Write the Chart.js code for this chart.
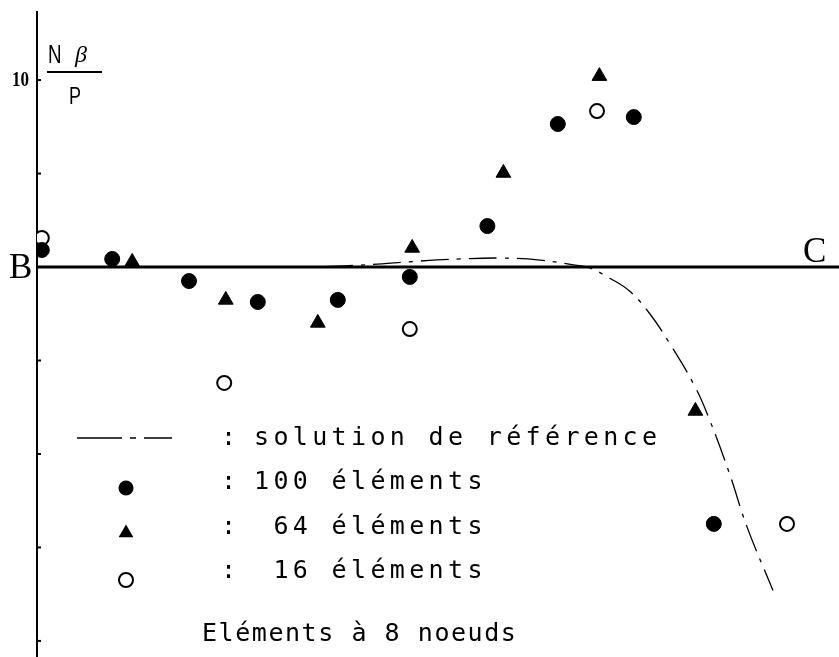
<!DOCTYPE html>
<html>
<head>
<meta charset="utf-8">
<script src="https://cdn.jsdelivr.net/npm/chart.js@4/dist/chart.umd.min.js"></script>
<style>
  html, body { margin: 0; padding: 0; background: #fff; }
  #wrap { width: 839px; height: 657px; position: relative; }
</style>
</head>
<body>
<div id="wrap"><canvas id="c"></canvas></div>
<script>
// values (x: position along B-C, y: N beta / P)
const xMax = 100.25;
const yMin = -20.86;
const yMax = 13.64;
const yTicks = [-20, -15, -10, -5, 0, 5, 10];
const yLabelled = [10];

const refX = [0, 32.9, 40.4, 47.9, 52.9, 57.9, 62.9, 67.25, 69.1, 71.6, 74.1, 76.6, 79.1, 82.25, 84.1, 86.6, 88.75, 92];
const refY = [0, 0, 0.1, 0.32, 0.43, 0.48, 0.37, 0.1, -0.05, -0.6, -1.3, -2.5, -4.1, -6.4, -8.2, -11.1, -13.9, -17.3];

const e100X = [0.6, 9.4, 19.0, 27.6, 37.6, 46.6, 56.3, 65.1, 74.6, 84.6];
const e100Y = [0.91, 0.43, -0.75, -1.87, -1.76, -0.53, 2.19, 7.65, 8.02, -13.74];

const e64X = [11.9, 23.6, 35.1, 46.9, 58.3, 70.3, 82.3];
const e64Y = [0.27, -1.76, -2.99, 1.02, 5.03, 10.21, -7.70];

const e16X = [0.6, 23.4, 46.6, 70.0, 93.75];
const e16Y = [1.55, -6.20, -3.32, 8.34, -13.74];

const pts = (xs, ys) => xs.map((x, i) => ({ x: x, y: ys[i] }));

const mono = '"DejaVu Sans Mono", monospace';

// draw a string one char at a time, typewriter style
function spaced(ctx, str, x, y, adv) {
    for (let i = 0; i < str.length; i++) {
        ctx.fillText(str[i], x + i * adv, y);
    }
}

// horizontally squeezed text
function narrow(ctx, str, x, y, k) {
    ctx.save();
    ctx.translate(x, y);
    ctx.scale(k, 1);
    ctx.fillText(str, 0, 0);
    ctx.restore();
}

const decor = {
    id: 'decor',
    afterDraw(chart) {
        const ctx = chart.ctx;
        const ys = chart.scales.y;
        const xs = chart.scales.x;
        ctx.save();
        ctx.fillStyle = '#000';
        ctx.strokeStyle = '#000';

        // small inward tick marks on the axis, and the one labelled tick
        ctx.lineWidth = 2;
        yTicks.forEach(v => {
            if (v === 0) return;
            const py = ys.getPixelForValue(v);
            ctx.beginPath();
            ctx.moveTo(xs.left, py);
            ctx.lineTo(xs.left + 4, py);
            ctx.stroke();
        });
        ctx.font = 'bold 20px "Liberation Serif", serif';
        ctx.textAlign = 'left';
        ctx.textBaseline = 'alphabetic';
        yLabelled.forEach(v => {
            narrow(ctx, String(v), 12, ys.getPixelForValue(v) + 6, 0.85);
        });

        // B and C
        ctx.font = '35px "Liberation Serif", serif';
        const y0 = ys.getPixelForValue(0);
        ctx.fillText('B', 9, y0 + 11);
        ctx.fillText('C', 803, y0 - 5);

        // N beta / P
        ctx.font = '25px "Liberation Sans", sans-serif';
        narrow(ctx, 'N', 48, 63, 0.75);
        ctx.font = 'italic 24px "Liberation Serif", serif';
        ctx.fillText('β', 75, 62);
        ctx.font = '24px "Liberation Sans", sans-serif';
        narrow(ctx, 'P', 69, 104, 0.75);
        ctx.lineWidth = 2;
        ctx.beginPath();
        ctx.moveTo(47, 72);
        ctx.lineTo(102, 72);
        ctx.stroke();

        // legend
        ctx.lineWidth = 1.5;
        ctx.setLineDash([45, 8, 6, 8]);
        ctx.beginPath();
        ctx.moveTo(77, 438);
        ctx.lineTo(172, 438);
        ctx.stroke();
        ctx.setLineDash([]);

        ctx.beginPath();
        ctx.arc(126, 488, 7.5, 0, Math.PI * 2);
        ctx.fill();

        ctx.beginPath();
        ctx.moveTo(126, 533 - 8.5);
        ctx.lineTo(126 + 7.4, 533 + 4.25);
        ctx.lineTo(126 - 7.4, 533 + 4.25);
        ctx.closePath();
        ctx.fill();

        ctx.lineWidth = 2;
        ctx.beginPath();
        ctx.arc(126, 580, 7, 0, Math.PI * 2);
        ctx.stroke();

        ctx.font = '25px ' + mono;
        const rows = [
            [445, 'solution de référence'],
            [489, '100 éléments'],
            [534, ' 64 éléments'],
            [578, ' 16 éléments']
        ];
        rows.forEach(r => {
            ctx.fillText(':', 221, r[0]);
            spaced(ctx, r[1], 254, r[0], 19.4);
        });
        spaced(ctx, 'Eléments à 8 noeuds', 202, 641, 16.6);

        ctx.restore();
    }
};

new Chart(document.getElementById('c'), {
    type: 'scatter',
    data: {
        datasets: [
            {
                label: 'B-C',
                data: [{ x: 0, y: 0 }, { x: xMax, y: 0 }],
                showLine: true,
                borderColor: '#000',
                borderWidth: 3,
                pointRadius: 0
            },
            {
                label: 'solution de référence',
                data: pts(refX, refY),
                showLine: true,
                borderColor: '#000',
                borderWidth: 1.3,
                borderDash: [28, 8, 4, 8],
                tension: 0.4,
                pointRadius: 0
            },
            {
                label: '100 éléments',
                data: pts(e100X, e100Y),
                pointStyle: 'circle',
                pointRadius: 7.5,
                backgroundColor: '#000',
                borderColor: '#000',
                borderWidth: 1
            },
            {
                label: '64 éléments',
                data: pts(e64X, e64Y),
                pointStyle: 'triangle',
                pointRadius: 8.5,
                backgroundColor: '#000',
                borderColor: '#000',
                borderWidth: 1
            },
            {
                label: '16 éléments',
                data: pts(e16X, e16Y),
                pointStyle: 'circle',
                pointRadius: 7,
                backgroundColor: '#fff',
                borderColor: '#000',
                borderWidth: 2
            }
        ]
    },
    options: {
        responsive: true,
        maintainAspectRatio: false,
        animation: false,
        layout: { autoPadding: false, padding: { top: 12, right: 0, bottom: 0, left: 0 } },
        plugins: {
            legend: { display: false },
            tooltip: { enabled: false }
        },
        scales: {
            x: {
                type: 'linear',
                min: 0,
                max: xMax,
                display: false
            },
            y: {
                type: 'linear',
                min: yMin,
                max: yMax,
                afterBuildTicks: s => { s.ticks = yTicks.map(v => ({ value: v })); },
                afterFit: s => { s.width = 37; },
                grid: { display: true, drawOnChartArea: false, drawTicks: false },
                border: { display: true, color: '#000', width: 2 },
                ticks: { display: false }
            }
        }
    },
    plugins: [decor]
});
</script>
</body>
</html>
